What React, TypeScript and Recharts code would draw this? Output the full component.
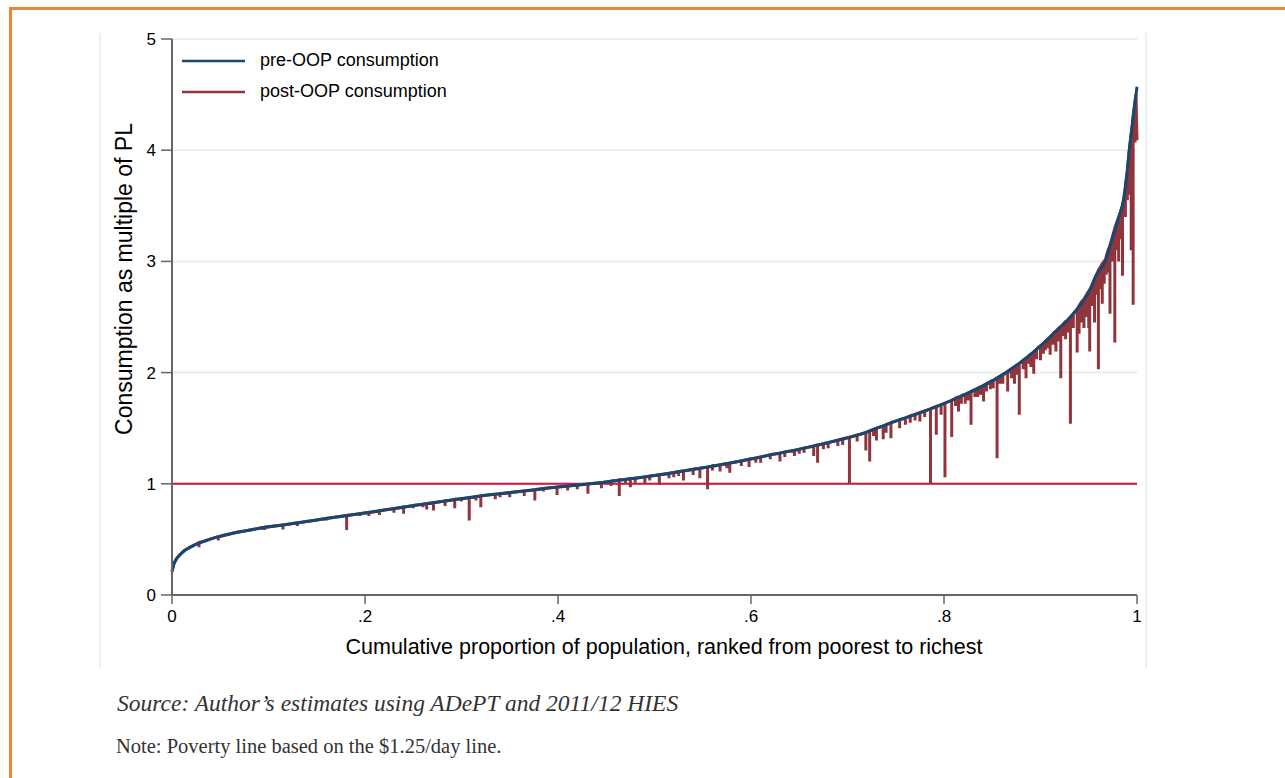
import React from "react";
import { LineChart, Line, XAxis, YAxis, CartesianGrid, ReferenceLine, Legend } from "recharts";

// pre-OOP curve
const preP = [
  0, 0.002, 0.005, 0.008, 0.013, 0.019, 0.029, 0.046, 0.065, 0.081, 0.115, 0.15, 0.185, 0.22,
  0.254, 0.29, 0.323, 0.36, 0.392, 0.4435, 0.461, 0.5, 0.533, 0.58, 0.623, 0.67, 0.713, 0.747,
  0.782, 0.817, 0.851, 0.882, 0.9, 0.917, 0.937, 0.951, 0.958, 0.967, 0.974, 0.982, 0.986,
  0.989, 0.992, 0.996, 1.0,
];
const preV = [
  0.21, 0.28, 0.33, 0.36, 0.4, 0.43, 0.47, 0.52, 0.56, 0.585, 0.63, 0.675, 0.72, 0.765, 0.81,
  0.855, 0.895, 0.93, 0.965, 1.01, 1.03, 1.075, 1.12, 1.19, 1.265, 1.35, 1.445, 1.555, 1.66,
  1.785, 1.93, 2.11, 2.24, 2.38, 2.56, 2.74, 2.88, 3.0, 3.2, 3.42, 3.55, 3.75, 4.0, 4.3, 4.57,
];

// big post-OOP drops: position, value on the curve, value after OOP
const spikeP = [
  0.028, 0.048, 0.096, 0.115, 0.181, 0.204, 0.215, 0.23, 0.24, 0.264, 0.271, 0.283, 0.293,
  0.308, 0.32, 0.335, 0.35, 0.365, 0.376, 0.399, 0.41, 0.42, 0.431, 0.445, 0.455, 0.4635,
  0.475, 0.49, 0.505, 0.515, 0.53, 0.54, 0.547, 0.555, 0.568, 0.578, 0.59, 0.598, 0.61, 0.63,
  0.645, 0.655, 0.665, 0.669, 0.68, 0.69, 0.702, 0.719, 0.723, 0.73, 0.737, 0.745, 0.754,
  0.775, 0.786, 0.792, 0.801, 0.808, 0.815, 0.822, 0.828, 0.835, 0.841, 0.848, 0.855, 0.861,
  0.866, 0.873, 0.878, 0.885, 0.89, 0.893, 0.9, 0.905, 0.91, 0.916, 0.921, 0.926, 0.931,
  0.934, 0.938, 0.942, 0.945, 0.948, 0.951, 0.953, 0.956, 0.96, 0.964, 0.968, 0.972, 0.977,
  0.981, 0.985, 0.988, 0.99, 0.994, 0.996, 0.998,
];
const spikeTop = [
  0.47, 0.52, 0.61, 0.63, 0.715, 0.74, 0.755, 0.775, 0.79, 0.82, 0.83, 0.845, 0.86, 0.875,
  0.89, 0.905, 0.92, 0.935, 0.945, 0.97, 0.98, 0.99, 1.0, 1.01, 1.025, 1.035, 1.045, 1.06,
  1.08, 1.095, 1.115, 1.13, 1.14, 1.15, 1.17, 1.185, 1.205, 1.22, 1.24, 1.275, 1.3, 1.32,
  1.34, 1.35, 1.37, 1.395, 1.42, 1.46, 1.475, 1.5, 1.52, 1.55, 1.575, 1.64, 1.675, 1.695,
  1.725, 1.75, 1.78, 1.8, 1.83, 1.86, 1.885, 1.92, 1.95, 1.98, 2.0, 2.04, 2.08, 2.125, 2.16,
  2.18, 2.24, 2.28, 2.32, 2.37, 2.41, 2.45, 2.5, 2.53, 2.57, 2.62, 2.66, 2.7, 2.74, 2.78, 2.84,
  2.92, 2.97, 3.04, 3.14, 3.3, 3.4, 3.5, 3.65, 3.8, 4.15, 4.3, 4.45,
];
const spikeLow = [
  0.43, 0.49, 0.585, 0.59, 0.585, 0.71, 0.72, 0.74, 0.73, 0.77, 0.76, 0.8, 0.78, 0.67, 0.79,
  0.86, 0.88, 0.89, 0.85, 0.9, 0.94, 0.95, 0.91, 0.96, 0.98, 0.89, 0.97, 1.0, 0.99, 1.05,
  1.03, 1.08, 1.05, 0.95, 1.11, 1.1, 1.16, 1.15, 1.19, 1.2, 1.25, 1.28, 1.25, 1.19, 1.32,
  1.34, 1.0, 1.3, 1.2, 1.39, 1.4, 1.41, 1.5, 1.56, 1.0, 1.44, 1.06, 1.42, 1.65, 1.72, 1.53,
  1.78, 1.74, 1.85, 1.23, 1.9, 1.83, 1.9, 1.62, 1.95, 2.05, 1.99, 2.11, 2.2, 2.16, 2.19,
  1.95, 2.3, 1.54, 2.4, 2.18, 2.45, 2.4, 2.5, 2.19, 2.6, 2.45, 2.03, 2.62, 2.88, 2.53, 2.27,
  3.0, 2.87, 3.4, 3.55, 3.1, 2.61, 4.07,
];

// small drops that thicken the red band under the curve
const minorP = [
  0.13, 0.16, 0.195, 0.25, 0.26, 0.3, 0.315, 0.34, 0.385, 0.47, 0.48, 0.495, 0.52, 0.525,
  0.56, 0.575, 0.605, 0.62, 0.635, 0.65, 0.675, 0.695, 0.71, 0.727, 0.74, 0.76, 0.765, 0.77,
  0.78, 0.797, 0.812, 0.818, 0.825, 0.832, 0.838, 0.844, 0.851, 0.858, 0.87, 0.875, 0.882,
  0.888, 0.896, 0.903, 0.908, 0.913, 0.918, 0.924, 0.928, 0.94, 0.943, 0.947, 0.95, 0.955,
  0.958, 0.962, 0.966, 0.97, 0.974, 0.979, 0.983, 0.986, 0.992, 0.995, 0.999,
];
const minorTop = [
  0.65, 0.69, 0.73, 0.805, 0.815, 0.865, 0.88, 0.91, 0.955, 1.04, 1.05, 1.07, 1.1, 1.11,
  1.16, 1.18, 1.23, 1.26, 1.285, 1.31, 1.36, 1.405, 1.44, 1.49, 1.53, 1.59, 1.61, 1.625,
  1.655, 1.71, 1.77, 1.79, 1.815, 1.845, 1.87, 1.9, 1.93, 1.965, 2.02, 2.055, 2.11, 2.15,
  2.21, 2.26, 2.3, 2.35, 2.39, 2.44, 2.47, 2.6, 2.64, 2.69, 2.73, 2.82, 2.88, 2.95, 3.0,
  3.1, 3.2, 3.35, 3.45, 3.55, 4.0, 4.2, 4.5,
];
const minorLow = [
  0.62, 0.67, 0.71, 0.78, 0.79, 0.84, 0.85, 0.88, 0.93, 1.0, 1.01, 1.03, 1.06, 1.07, 1.12,
  1.14, 1.19, 1.22, 1.24, 1.27, 1.31, 1.35, 1.38, 1.43, 1.46, 1.53, 1.55, 1.57, 1.6, 1.62,
  1.7, 1.72, 1.75, 1.78, 1.8, 1.83, 1.86, 1.9, 1.95, 1.98, 2.03, 2.08, 2.12, 2.17, 2.22,
  2.25, 2.28, 2.33, 2.36, 2.35, 2.5, 2.55, 2.4, 2.6, 2.7, 2.75, 2.8, 2.9, 3.0, 3.1, 3.2, 3.4,
  3.6, 3.9, 4.1,
];
const postEnd = 4.09;

const xTicks = [0, 0.2, 0.4, 0.6, 0.8, 1];
const xTickLabels = ["0", ".2", ".4", ".6", ".8", "1"];
const yTicks = [0, 1, 2, 3, 4, 5];
const povertyLine = 1;

const seriesNames = ["pre-OOP consumption", "post-OOP consumption"];
const NAVY = "#1a476f";
const MAROON = "#90353b";

const preData = preP.map((p, i) => ({ p, v: preV[i], k: -1 }));
const drop = (ps: number[], tops: number[], lows: number[]) =>
  ps.flatMap((p, i) => [
    { p, v: tops[i], k: 0 },
    { p, v: lows[i], k: 1 },
    { p, v: tops[i], k: 2 },
  ]);
const postData = [
  ...preData.slice(0, -1),
  { p: 1, v: postEnd, k: 5 },
  ...drop(spikeP, spikeTop, spikeLow),
  ...drop(minorP, minorTop, minorLow),
].sort((a, b) => a.p - b.p || a.k - b.k);

const font = "'Liberation Sans', Arial, sans-serif";

function LegendBox({ payload }: any) {
  const items = seriesNames.map((n) => (payload || []).find((it: any) => it.value === n)).filter(Boolean);
  return (
    <div style={{ fontFamily: font, fontSize: 18, color: "#000" }}>
      {items.map((it: any) => (
        <div key={it.value} style={{ display: "flex", alignItems: "center", height: 31 }}>
          <svg width={80} height={6}>
            <line x1={2} y1={3} x2={65} y2={3} stroke={it.color} strokeWidth={2.5} />
          </svg>
          <span>{it.value}</span>
        </div>
      ))}
    </div>
  );
}

export default function App() {
  return (
    <div style={{ position: "absolute", left: 0, top: 0, width: 1285, height: 778, background: "#fff", overflow: "hidden" }}>
      <div style={{ position: "absolute", left: 9, top: 7, width: 1300, height: 800, borderTop: "3px solid #e8873a", borderLeft: "3px solid #e8873a" }} />
      <div style={{ position: "absolute", left: 99, top: 33, width: 1044, height: 635, borderLeft: "2px solid #e9f0f3", borderRight: "2px solid #e9f0f3" }} />
      <div style={{ position: "absolute", left: 0, top: 0 }}>
        <LineChart width={1285} height={700} margin={{ top: 39, right: 148, left: 112, bottom: 45 }} style={{ fontFamily: font }}>
          <CartesianGrid vertical={false} stroke="#e6eef1" strokeWidth={2} />
          <XAxis
            type="number"
            dataKey="p"
            domain={[0, 1]}
            ticks={xTicks}
            tickFormatter={(v: number) => xTickLabels[xTicks.indexOf(v)]}
            height={60}
            tickSize={9}
            tickMargin={6}
            tick={{ fill: "#000", fontSize: 17 }}
            axisLine={{ stroke: "#666", strokeWidth: 2 }}
            tickLine={{ stroke: "#666", strokeWidth: 1.5 }}
            label={{
              content: () => (
                <text x={664} y={654} textAnchor="middle" fontSize={21.5} fill="#000" fontFamily={font}>
                  Cumulative proportion of population, ranked from poorest to richest
                </text>
              ),
            }}
          />
          <YAxis
            type="number"
            domain={[0, 5]}
            ticks={yTicks}
            width={60}
            tickSize={11}
            tickMargin={5}
            tick={{ fill: "#000", fontSize: 17 }}
            axisLine={{ stroke: "#666", strokeWidth: 2 }}
            tickLine={{ stroke: "#666", strokeWidth: 1.5 }}
            label={{
              content: () => (
                <text transform="translate(124,279) rotate(-90)" textAnchor="middle" dominantBaseline="central" fontSize={23} fill="#000" fontFamily={font}>
                  Consumption as multiple of PL
                </text>
              ),
            }}
          />
          <ReferenceLine y={povertyLine} stroke="#d0143c" strokeWidth={2} />
          <Line data={postData} dataKey="v" name={seriesNames[1]} type="linear" stroke={MAROON} strokeWidth={3} dot={false} activeDot={false} isAnimationActive={false} />
          <Line data={preData} dataKey="v" name={seriesNames[0]} type="monotone" stroke={NAVY} strokeWidth={3} dot={false} activeDot={false} isAnimationActive={false} />
          <Legend layout="horizontal" verticalAlign="middle" align="center" wrapperStyle={{ left: 180, top: 45, width: 320 }} content={<LegendBox />} />
        </LineChart>
      </div>
      <div style={{ position: "absolute", left: 117, top: 690, fontFamily: "'Liberation Serif', 'Times New Roman', serif", fontStyle: "italic", fontSize: 23.5, color: "#333", whiteSpace: "nowrap" }}>
        Source: Author’s estimates using ADePT and 2011/12 HIES
      </div>
      <div style={{ position: "absolute", left: 116, top: 735, fontFamily: "'Liberation Serif', 'Times New Roman', serif", fontSize: 20.5, color: "#333", whiteSpace: "nowrap" }}>
        Note: Poverty line based on the $1.25/day line.
      </div>
    </div>
  );
}
